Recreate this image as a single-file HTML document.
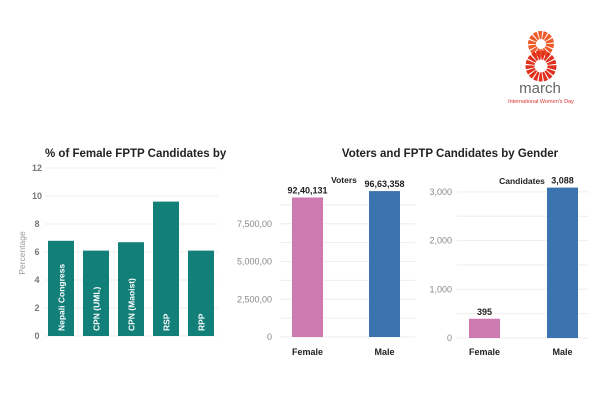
<!DOCTYPE html>
<html><head><meta charset="utf-8"><style>
body{margin:0;width:600px;height:400px;background:#fff;overflow:hidden;font-family:"Liberation Sans",sans-serif}
</style></head><body>
<svg width="600" height="400" style="position:absolute;left:0;top:0">
<g>
<circle cx="541" cy="44" r="9" fill="none" stroke="#f05a28" stroke-width="8" stroke-dasharray="3 1"/>
<circle cx="541" cy="66" r="11" fill="none" stroke="#e0301e" stroke-width="9" stroke-dasharray="3 1"/>
<text x="540" y="93" font-size="15" fill="#666" text-anchor="middle">march</text>
<text x="541" y="103" font-size="5.5" fill="#d33" text-anchor="middle">International Women's Day</text>
</g>
<g id="left"></g>
<g id="voters"></g>
<g id="cands"></g>
<text x="45" y="157" font-size="11.5" font-weight="bold" fill="#222">% of Female FPTP Candidates by</text>
<text x="450" y="157" font-size="11.5" font-weight="bold" fill="#222" text-anchor="middle">Voters and FPTP Candidates by Gender</text>
<text transform="translate(25,253) rotate(-90)" font-size="8.5" fill="#999" text-anchor="middle">Percentage</text>
</svg>
<script>
const parties=["Nepali Congress","CPN (UML)","CPN (Maoist)","RSP","RPP"];
const partyPct=[6.8,6.1,6.7,9.6,6.1];
const pctTicks=[0,2,4,6,8,10,12];
const genders=["Female","Male"];
const voters=[9240131,9663358];
const voterLabels=["92,40,131","96,63,358"];
const voterTicks=[0,2500000,5000000,7500000];
const voterTickLabels=["0","2,500,00","5,000,00","7,500,00"];
const cands=[395,3088];
const candLabels=["395","3,088"];
const candTicks=[0,1000,2000,3000];
const candTickLabels=["0","1,000","2,000","3,000"];
const NS="http://www.w3.org/2000/svg";
function mk(p,t,a,txt){const e=document.createElementNS(NS,t);for(const k in a)e.setAttribute(k,a[k]);if(txt!=null)e.textContent=txt;p.appendChild(e);return e;}
// left
const L=document.getElementById('left');
const yP=v=>336-v*14;
for(let v=0;v<=12;v+=2){const g=mk(L,'line',{x1:45,x2:218,y1:yP(v),y2:yP(v),stroke:'#eee','stroke-width':1});

}
pctTicks.forEach(v=>{const t=mk(L,'text',{x:37,y:yP(v)+3,'font-size':9,'font-weight':'bold',fill:'#777','text-anchor':'middle'},String(v));

});
parties.forEach((p,i)=>{const x=48+i*35;
const r=mk(L,'rect',{x:x,y:yP(partyPct[i]),width:26,height:yP(0)-yP(partyPct[i]),fill:'#137f79'});


const t=mk(L,'text',{transform:`translate(${x+16.5},331) rotate(-90)`,'font-size':8.5,'font-weight':'bold',fill:'#fff'},p);

});
// voters
const V=document.getElementById('voters');
const yV=v=>337-v*15.1e-6;
for(let v=0;v<=8750000;v+=1250000){const g=mk(V,'line',{x1:280,x2:415,y1:yV(v),y2:yV(v),stroke:'#eee'});

}
voterTicks.forEach((v,i)=>{const t=mk(V,'text',{x:272,y:yV(v)+3,'font-size':9,fill:'#888','text-anchor':'end'},voterTickLabels[i]);

});
const vcol=['#cd7ab1','#3a73ae'];
genders.forEach((g,i)=>{const x=292+i*77;
const r=mk(V,'rect',{x:x,y:yV(voters[i]),width:31,height:yV(0)-yV(voters[i]),fill:vcol[i]});


const t=mk(V,'text',{x:x+15.5,y:yV(voters[i])-4,'font-size':9,'font-weight':'bold',fill:'#222','text-anchor':'middle'},voterLabels[i]);


const c=mk(V,'text',{x:x+15.5,y:355,'font-size':9,'font-weight':'bold',fill:'#222','text-anchor':'middle'},g);

});
const vt=mk(V,'text',{x:344,y:183,'font-size':8.5,'font-weight':'bold',fill:'#222','text-anchor':'middle'},'Voters');


// candidates
const C=document.getElementById('cands');
const yC=v=>338-v*0.0487;
for(let v=0;v<=3000;v+=500){const g=mk(C,'line',{x1:457,x2:588,y1:yC(v),y2:yC(v),stroke:'#eee'});

}
candTicks.forEach((v,i)=>{const t=mk(C,'text',{x:452,y:yC(v)+3,'font-size':9,fill:'#888','text-anchor':'end'},candTickLabels[i]);

});
genders.forEach((g,i)=>{const x=469+i*78;
const r=mk(C,'rect',{x:x,y:yC(cands[i]),width:31,height:yC(0)-yC(cands[i]),fill:vcol[i]});


const t=mk(C,'text',{x:x+15.5,y:yC(cands[i])-4,'font-size':9,'font-weight':'bold',fill:'#222','text-anchor':'middle'},candLabels[i]);


const c=mk(C,'text',{x:x+15.5,y:355,'font-size':9,'font-weight':'bold',fill:'#222','text-anchor':'middle'},g);

});
const ct=mk(C,'text',{x:522,y:184,'font-size':8.5,'font-weight':'bold',fill:'#222','text-anchor':'middle'},'Candidates');


</script>
</body></html>
